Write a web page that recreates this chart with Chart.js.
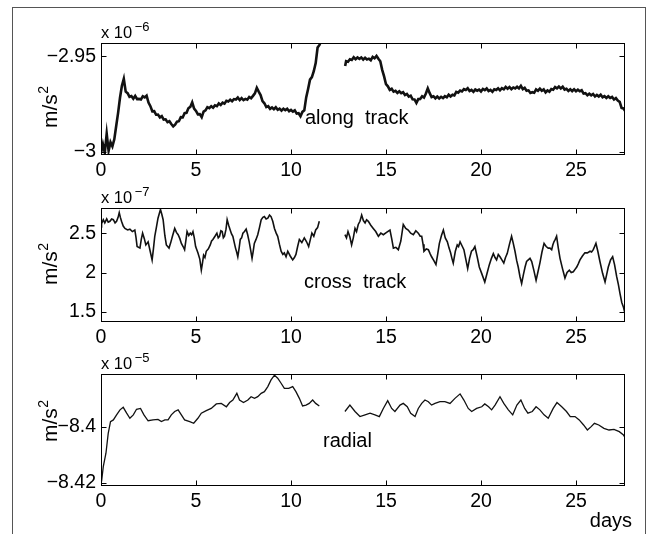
<!DOCTYPE html>
<html>
<head>
<meta charset="utf-8">
<script src="https://cdn.jsdelivr.net/npm/chart.js@4.4.1/dist/chart.umd.min.js"></script>
<style>
html,body{margin:0;padding:0;background:#fff;width:648px;height:534px;overflow:hidden;position:relative}
#frame{position:absolute;left:12px;top:7px;width:634px;height:600px;border:1px solid #555;box-sizing:border-box}
canvas{position:absolute;left:0}
</style>
</head>
<body>
<div id="frame"></div>
<canvas id="c1" width="648" height="190" style="top:0px"></canvas>
<canvas id="c2" width="648" height="178" style="top:172px"></canvas>
<canvas id="c3" width="648" height="199" style="top:335px"></canvas>
<script>
// ---------- data (days, values in the axis exponent units) ----------
const dayTicks = [0, 5, 10, 15, 20, 25];

const alongTicks = [-3, -2.95];
const alongDays = [
0.0,0.1,0.2,0.3,0.4,0.5,0.6,0.7,0.8,0.9,1.0,1.1,1.2,1.3,1.4,1.5,1.6,1.7,1.8,1.9,
2.0,2.1,2.2,2.3,2.4,2.5,2.6,2.7,2.8,2.9,3.0,3.1,3.2,3.3,3.4,3.5,3.6,3.7,3.8,3.9,
4.0,4.1,4.2,4.3,4.4,4.5,4.6,4.7,4.8,4.9,5.0,5.1,5.2,5.3,5.4,5.5,5.6,5.7,5.8,5.9,
6.0,6.1,6.2,6.3,6.4,6.5,6.6,6.7,6.8,6.9,7.0,7.1,7.2,7.3,7.4,7.5,7.6,7.7,7.8,7.9,
8.0,8.1,8.2,8.3,8.4,8.5,8.6,8.7,8.8,8.9,9.0,9.1,9.2,9.3,9.4,9.5,9.6,9.7,9.8,9.9,
10.0,10.1,10.2,10.3,10.4,10.5,10.6,10.7,10.8,10.9,11.0,11.1,11.2,11.3,11.4,11.5,11.55,
12.2,
12.85,12.9,13.0,13.1,13.2,13.3,13.4,13.5,13.6,13.7,13.8,13.9,
14.0,14.1,14.2,14.3,14.4,14.5,14.6,14.7,14.8,14.9,15.0,15.1,15.2,15.3,15.4,15.5,15.6,15.7,15.8,15.9,
16.0,16.1,16.2,16.3,16.4,16.5,16.6,16.7,16.8,16.9,17.0,17.1,17.2,17.3,17.4,17.5,17.6,17.7,17.8,17.9,
18.0,18.1,18.2,18.3,18.4,18.5,18.6,18.7,18.8,18.9,19.0,19.1,19.2,19.3,19.4,19.5,19.6,19.7,19.8,19.9,
20.0,20.1,20.2,20.3,20.4,20.5,20.6,20.7,20.8,20.9,21.0,21.1,21.2,21.3,21.4,21.5,21.6,21.7,21.8,21.9,
22.0,22.1,22.2,22.3,22.4,22.5,22.6,22.7,22.8,22.9,23.0,23.1,23.2,23.3,23.4,23.5,23.6,23.7,23.8,23.9,
24.0,24.1,24.2,24.3,24.4,24.5,24.6,24.7,24.8,24.9,25.0,25.1,25.2,25.3,25.4,25.5,25.6,25.7,25.8,25.9,
26.0,26.1,26.2,26.3,26.4,26.5,26.6,26.7,26.8,26.9,27.0,27.1,27.2,27.3,27.4,27.5,27.58
];
const alongVals = [
-3.0008,-2.9960,-3.0005,-2.9905,-2.9995,-2.9950,-2.9972,-2.9935,-2.9865,-2.9796,-2.9717,-2.9654,-2.9618,-2.9685,-2.9693,-2.9712,-2.9708,-2.9722,-2.9707,-2.9724,
-2.9723,-2.9726,-2.9709,-2.9715,-2.9706,-2.9742,-2.9761,-2.9788,-2.9787,-2.9806,-2.9805,-2.9820,-2.9813,-2.9831,-2.9830,-2.9845,-2.9840,-2.9855,-2.9867,-2.9858,
-2.9842,-2.9840,-2.9819,-2.9820,-2.9798,-2.9796,-2.9772,-2.9765,-2.9741,-2.9774,-2.9786,-2.9804,-2.9803,-2.9819,-2.9790,-2.9783,-2.9766,-2.9771,-2.9761,-2.9769,
-2.9757,-2.9761,-2.9747,-2.9755,-2.9743,-2.9748,-2.9733,-2.9737,-2.9727,-2.9735,-2.9724,-2.9726,-2.9716,-2.9729,-2.9719,-2.9729,-2.9723,-2.9727,-2.9713,-2.9720,
-2.9707,-2.9694,-2.9665,-2.9685,-2.9703,-2.9735,-2.9746,-2.9766,-2.9761,-2.9775,-2.9768,-2.9777,-2.9767,-2.9780,-2.9774,-2.9784,-2.9774,-2.9782,-2.9775,-2.9788,
-2.9781,-2.9790,-2.9783,-2.9800,-2.9798,-2.9814,-2.9791,-2.9783,-2.9715,-2.9671,-2.9622,-2.9609,-2.9578,-2.9535,-2.9454,-2.9440,-2.9428,
null,
-2.9550,-2.9525,-2.9528,-2.9515,-2.9519,-2.9505,-2.9515,-2.9506,-2.9513,-2.9506,-2.9517,-2.9507,
-2.9516,-2.9512,-2.9520,-2.9503,-2.9510,-2.9498,-2.9513,-2.9526,-2.9571,-2.9605,-2.9646,-2.9657,-2.9676,-2.9670,-2.9685,-2.9681,-2.9692,-2.9683,-2.9693,-2.9688,
-2.9703,-2.9697,-2.9711,-2.9706,-2.9725,-2.9726,-2.9744,-2.9724,-2.9723,-2.9709,-2.9716,-2.9695,-2.9668,-2.9693,-2.9713,-2.9709,-2.9720,-2.9711,-2.9721,-2.9712,
-2.9719,-2.9709,-2.9715,-2.9701,-2.9710,-2.9701,-2.9705,-2.9686,-2.9690,-2.9679,-2.9684,-2.9672,-2.9676,-2.9667,-2.9682,-2.9676,-2.9686,-2.9674,-2.9680,-2.9674,
-2.9684,-2.9671,-2.9677,-2.9668,-2.9682,-2.9676,-2.9686,-2.9673,-2.9676,-2.9667,-2.9678,-2.9667,-2.9673,-2.9660,-2.9670,-2.9661,-2.9672,-2.9663,-2.9668,-2.9659,
-2.9668,-2.9655,-2.9672,-2.9665,-2.9680,-2.9678,-2.9692,-2.9688,-2.9691,-2.9673,-2.9680,-2.9669,-2.9680,-2.9673,-2.9689,-2.9679,-2.9685,-2.9671,-2.9675,-2.9661,
-2.9668,-2.9658,-2.9668,-2.9659,-2.9674,-2.9670,-2.9681,-2.9672,-2.9682,-2.9673,-2.9683,-2.9675,-2.9683,-2.9678,-2.9695,-2.9693,-2.9704,-2.9696,-2.9704,-2.9697,
-2.9710,-2.9702,-2.9710,-2.9701,-2.9714,-2.9708,-2.9718,-2.9709,-2.9718,-2.9713,-2.9726,-2.9719,-2.9732,-2.9738,-2.9770,-2.9773,-2.9785
];

const crossTicks = [1.5, 2, 2.5];
const crossDays = [
0.0,0.03,0.12,0.2,0.3,0.38,0.47,0.56,0.65,0.74,0.82,0.9,0.96,1.02,1.08,1.17,1.26,1.4,1.52,1.65,1.78,1.84,1.9,2.05,2.12,2.19,2.28,2.36,2.48,2.58,2.69,2.76,2.83,2.92,3.0,3.07,3.13,3.2,3.27,3.36,3.44,3.58,3.67,3.76,3.88,3.97,4.06,4.15,4.23,4.32,4.4,4.47,4.53,4.62,4.7,4.77,4.84,4.91,4.98,5.1,5.2,5.28,5.34,5.4,5.47,5.54,5.65,5.75,5.82,5.89,6.0,6.1,6.17,6.24,6.31,6.38,6.44,6.5,6.58,6.64,6.72,6.8,6.87,6.94,7.08,7.14,7.2,7.27,7.33,7.4,7.47,7.55,7.64,7.72,7.8,7.88,7.95,8.01,8.07,8.16,8.25,8.34,8.43,8.52,8.6,8.69,8.78,8.87,8.95,9.04,9.13,9.22,9.3,9.39,9.48,9.57,9.65,9.74,9.83,9.96,10.09,10.18,10.26,10.35,10.44,10.57,10.7,10.82,10.93,11.02,11.1,11.2,11.3,11.4,11.49,
12.2,
12.84,12.92,13.0,13.1,13.19,13.28,13.37,13.45,13.54,13.63,13.72,13.81,13.9,13.98,14.07,14.2,14.33,14.46,14.6,14.73,14.86,15.03,15.21,15.3,15.39,15.52,15.65,15.78,15.91,16.04,16.17,16.3,16.44,16.57,16.7,16.8,16.88,16.95,17.0,17.12,17.23,17.32,17.4,17.52,17.63,17.72,17.81,17.92,18.02,18.12,18.23,18.32,18.4,18.47,18.54,18.65,18.75,18.82,18.9,19.0,19.1,19.2,19.3,19.4,19.5,19.59,19.68,19.8,19.91,20.05,20.2,20.32,20.44,20.55,20.65,20.74,20.82,20.91,21.0,21.1,21.2,21.29,21.38,21.5,21.61,21.7,21.79,21.88,21.96,22.05,22.14,22.23,22.32,22.4,22.49,22.58,22.67,22.78,22.9,23.0,23.1,23.21,23.32,23.43,23.54,23.63,23.72,23.78,23.84,23.91,23.98,24.07,24.16,24.29,24.42,24.53,24.65,24.75,24.86,24.95,25.04,25.12,25.21,25.34,25.47,25.6,25.74,25.82,25.91,25.98,26.05,26.15,26.26,26.4,26.53,26.62,26.7,26.82,26.93,27.03,27.14,27.23,27.32,27.41,27.5,27.58
];
const crossVals = [
2.58,2.62,2.67,2.63,2.68,2.64,2.65,2.68,2.67,2.63,2.65,2.70,2.76,2.70,2.65,2.59,2.56,2.54,2.55,2.52,2.54,2.45,2.33,2.31,2.42,2.50,2.43,2.35,2.39,2.28,2.16,2.30,2.46,2.58,2.69,2.75,2.80,2.74,2.67,2.47,2.35,2.31,2.38,2.46,2.56,2.51,2.48,2.43,2.37,2.33,2.29,2.41,2.52,2.47,2.50,2.48,2.52,2.44,2.33,2.25,2.17,2.03,2.12,2.22,2.19,2.27,2.30,2.35,2.40,2.42,2.46,2.50,2.44,2.46,2.53,2.52,2.44,2.46,2.55,2.67,2.60,2.54,2.49,2.46,2.31,2.26,2.20,2.31,2.42,2.44,2.50,2.52,2.55,2.48,2.39,2.28,2.18,2.27,2.37,2.42,2.48,2.57,2.67,2.70,2.71,2.68,2.69,2.73,2.71,2.65,2.56,2.50,2.46,2.36,2.27,2.23,2.25,2.20,2.27,2.21,2.16,2.19,2.23,2.33,2.42,2.38,2.44,2.39,2.33,2.42,2.50,2.46,2.54,2.57,2.65,
null,
2.48,2.44,2.52,2.45,2.35,2.44,2.56,2.52,2.61,2.65,2.73,2.66,2.63,2.67,2.65,2.60,2.56,2.52,2.46,2.50,2.48,2.51,2.54,2.43,2.31,2.32,2.29,2.40,2.61,2.56,2.54,2.50,2.48,2.53,2.50,2.46,2.46,2.36,2.27,2.30,2.29,2.24,2.20,2.15,2.10,2.23,2.37,2.47,2.54,2.44,2.39,2.31,2.25,2.18,2.12,2.27,2.35,2.33,2.39,2.34,2.29,2.17,2.05,2.18,2.27,2.29,2.33,2.20,2.07,1.98,1.88,1.99,2.10,2.18,2.24,2.19,2.16,2.23,2.20,2.16,2.12,2.19,2.24,2.36,2.46,2.37,2.27,2.15,2.07,1.95,1.86,1.97,2.07,2.14,2.16,2.18,2.14,2.03,1.90,2.01,2.12,2.26,2.37,2.33,2.31,2.31,2.29,2.35,2.39,2.42,2.46,2.31,2.18,2.05,1.93,2.00,2.03,2.00,2.01,2.04,2.07,2.11,2.16,2.21,2.25,2.25,2.27,2.26,2.29,2.33,2.37,2.27,2.14,1.99,1.88,1.98,2.07,2.16,2.20,2.10,1.95,1.85,1.73,1.62,1.56,1.48
];

const radialTicks = [-8.42, -8.4];
const radialDays = [
0.03,0.12,0.26,0.38,0.5,0.65,0.82,1.0,1.17,1.35,1.52,1.7,1.87,2.08,2.26,2.48,2.74,3.0,3.18,3.36,3.53,3.7,3.88,4.06,4.23,4.4,4.67,4.88,5.1,5.28,5.54,5.8,6.07,6.33,6.6,6.77,6.94,7.15,7.29,7.5,7.73,7.9,8.08,8.25,8.43,8.6,8.78,8.95,9.13,9.3,9.48,9.65,9.88,10.09,10.26,10.44,10.61,10.79,10.96,11.14,11.3,11.49,
12.2,
12.84,13.1,13.37,13.63,13.9,14.16,14.42,14.65,14.86,15.09,15.3,15.47,15.74,15.91,16.12,16.3,16.53,16.7,16.88,17.05,17.23,17.4,17.58,17.84,18.1,18.37,18.63,18.9,19.1,19.33,19.51,19.77,20.04,20.2,20.4,20.56,20.74,21.0,21.2,21.44,21.67,21.89,22.1,22.3,22.47,22.7,22.9,23.1,23.32,23.54,23.8,24.0,24.25,24.5,24.7,24.95,25.17,25.4,25.6,25.8,25.97,26.2,26.47,26.74,27.0,27.28,27.5,27.58
];
const radialVals = [
-8.4196,-8.4143,-8.4095,-8.4024,-8.3982,-8.3976,-8.3958,-8.3940,-8.3931,-8.3952,-8.3970,-8.3958,-8.3938,-8.3935,-8.3958,-8.3979,-8.3976,-8.3974,-8.3982,-8.3976,-8.3976,-8.3958,-8.3946,-8.3940,-8.3958,-8.3976,-8.3982,-8.3988,-8.3970,-8.3952,-8.3943,-8.3935,-8.3919,-8.3917,-8.3929,-8.3914,-8.3905,-8.3881,-8.3905,-8.3914,-8.3905,-8.3893,-8.3899,-8.3893,-8.3881,-8.3875,-8.3857,-8.3833,-8.3816,-8.3827,-8.3845,-8.3863,-8.3863,-8.3857,-8.3875,-8.3899,-8.3926,-8.3923,-8.3917,-8.3905,-8.3917,-8.3926,
null,
-8.3946,-8.3923,-8.3946,-8.3964,-8.3958,-8.3952,-8.3958,-8.3964,-8.3935,-8.3907,-8.3935,-8.3946,-8.3923,-8.3917,-8.3929,-8.3952,-8.3964,-8.3935,-8.3917,-8.3905,-8.3911,-8.3923,-8.3917,-8.3911,-8.3911,-8.3917,-8.3899,-8.3883,-8.3905,-8.3935,-8.3946,-8.3935,-8.3929,-8.3919,-8.3929,-8.3940,-8.3923,-8.3893,-8.3917,-8.3940,-8.3958,-8.3923,-8.3905,-8.3935,-8.3952,-8.3946,-8.3929,-8.3940,-8.3958,-8.3970,-8.3935,-8.3914,-8.3929,-8.3946,-8.3964,-8.3964,-8.3976,-8.3994,-8.4012,-8.4000,-8.3988,-8.3994,-8.4006,-8.4012,-8.4010,-8.4018,-8.4030,-8.4038
];

// ---------- rendering ----------
const F = '"Liberation Sans", Arial, Helvetica, sans-serif';
function fmt(v){ return v < 0 ? '\u2212' + String(Math.abs(v)) : String(v); }
function pts(days, vals){ return days.map((d,i) => ({x:d, y:vals[i]})); }

function makeChart(id, o){
  const H = document.getElementById(id).height;
  const xAxisH = H - o.top - o.plotH;
  const deco = {
    id: 'deco',
    afterDraw(chart){
      const ctx = chart.ctx, a = chart.chartArea, xs = chart.scales.x, ys = chart.scales.y;
      ctx.save();
      ctx.strokeStyle = '#000'; ctx.lineWidth = 1;
      const L = Math.round(a.left)+0.5, R = Math.round(a.right)-0.5, T = Math.round(a.top)+0.5, B = Math.round(a.bottom)-0.5;
      ctx.strokeRect(L, T, R-L, B-T);
      ctx.beginPath();
      dayTicks.forEach(v => { const p = Math.round(xs.getPixelForValue(v))+0.5;
        ctx.moveTo(p,B); ctx.lineTo(p,B-5); ctx.moveTo(p,T); ctx.lineTo(p,T+5); });
      o.yTicks.forEach(v => { const p = Math.round(ys.getPixelForValue(v))+0.5;
        ctx.moveTo(L,p); ctx.lineTo(L+5,p); ctx.moveTo(R,p); ctx.lineTo(R-5,p); });
      ctx.stroke();
      ctx.fillStyle = '#000'; ctx.textAlign = 'left'; ctx.textBaseline = 'alphabetic';
      ctx.font = '16.5px ' + F; ctx.fillText('x 10', a.left, a.top - 5);
      const w = ctx.measureText('x 10').width;
      ctx.font = '13px ' + F; ctx.fillText(o.exp, a.left + w + 2.5, a.top - 12.5);
      ctx.save(); ctx.translate(57, o.titleBottom); ctx.rotate(-Math.PI/2);
      ctx.font = '21px ' + F; ctx.fillText('m/s', 0, 0);
      const w2 = ctx.measureText('m/s').width;
      ctx.font = '14px ' + F; ctx.fillText('2', w2 + 0.5, -9);
      ctx.restore();
      ctx.font = '20px ' + F; ctx.fillText(o.label, o.labelX, o.labelY);
      if (o.daysY) { ctx.textAlign = 'right'; ctx.fillText('days', 632, o.daysY); }
      ctx.restore();
    }
  };
  return new Chart(document.getElementById(id), {
    type: 'line',
    data: { datasets: [{ data: pts(o.days, o.vals), borderColor: '#111', borderWidth: o.lw,
      pointRadius: 0, tension: 0, spanGaps: false, fill: false }] },
    options: {
      responsive: false, animation: false, events: [],
      layout: { padding: { left: 0, right: 23, top: o.top, bottom: 0 } },
      plugins: { legend: { display: false }, tooltip: { enabled: false } },
      scales: {
        x: { type: 'linear', min: 0, max: 27.58,
          grid: { display: false, drawTicks: false }, border: { display: false },
          ticks: { color: '#000', font: { family: F, size: 19.5 }, padding: 4, maxRotation: 0, autoSkip: false,
            callback: v => String(v) },
          afterBuildTicks: s => { s.ticks = dayTicks.map(v => ({ value: v })); },
          afterFit: s => { s.height = xAxisH; } },
        y: { type: 'linear', min: o.yMin, max: o.yMax,
          grid: { display: false, drawTicks: false }, border: { display: false },
          ticks: { color: '#000', font: { family: F, size: 19.5 }, padding: 5, autoSkip: false,
            callback: v => fmt(v) },
          afterBuildTicks: s => { s.ticks = o.yTicks.map(v => ({ value: v })); },
          afterFit: s => { s.width = 101; } }
      }
    },
    plugins: [deco]
  });
}

makeChart('c1', { days: alongDays, vals: alongVals, yTicks: alongTicks, yMin: -3.0017, yMax: -2.9430,
  lw: 2.6, top: 43, plotH: 112, exp: '\u22126', titleBottom: 128,
  label: 'along  track', labelX: 305, labelY: 124 });
makeChart('c2', { days: crossDays, vals: crossVals, yTicks: crossTicks, yMin: 1.372, yMax: 2.819,
  lw: 1.6, top: 36, plotH: 114, exp: '\u22127', titleBottom: 113,
  label: 'cross  track', labelX: 304, labelY: 116 });
makeChart('c3', { days: radialDays, vals: radialVals, yTicks: radialTicks, yMin: -8.4212, yMax: -8.3812,
  lw: 1.3, top: 39, plotH: 112, exp: '\u22125', titleBottom: 107,
  label: 'radial', labelX: 323, labelY: 112, daysY: 192 });
</script>
</body>
</html>
